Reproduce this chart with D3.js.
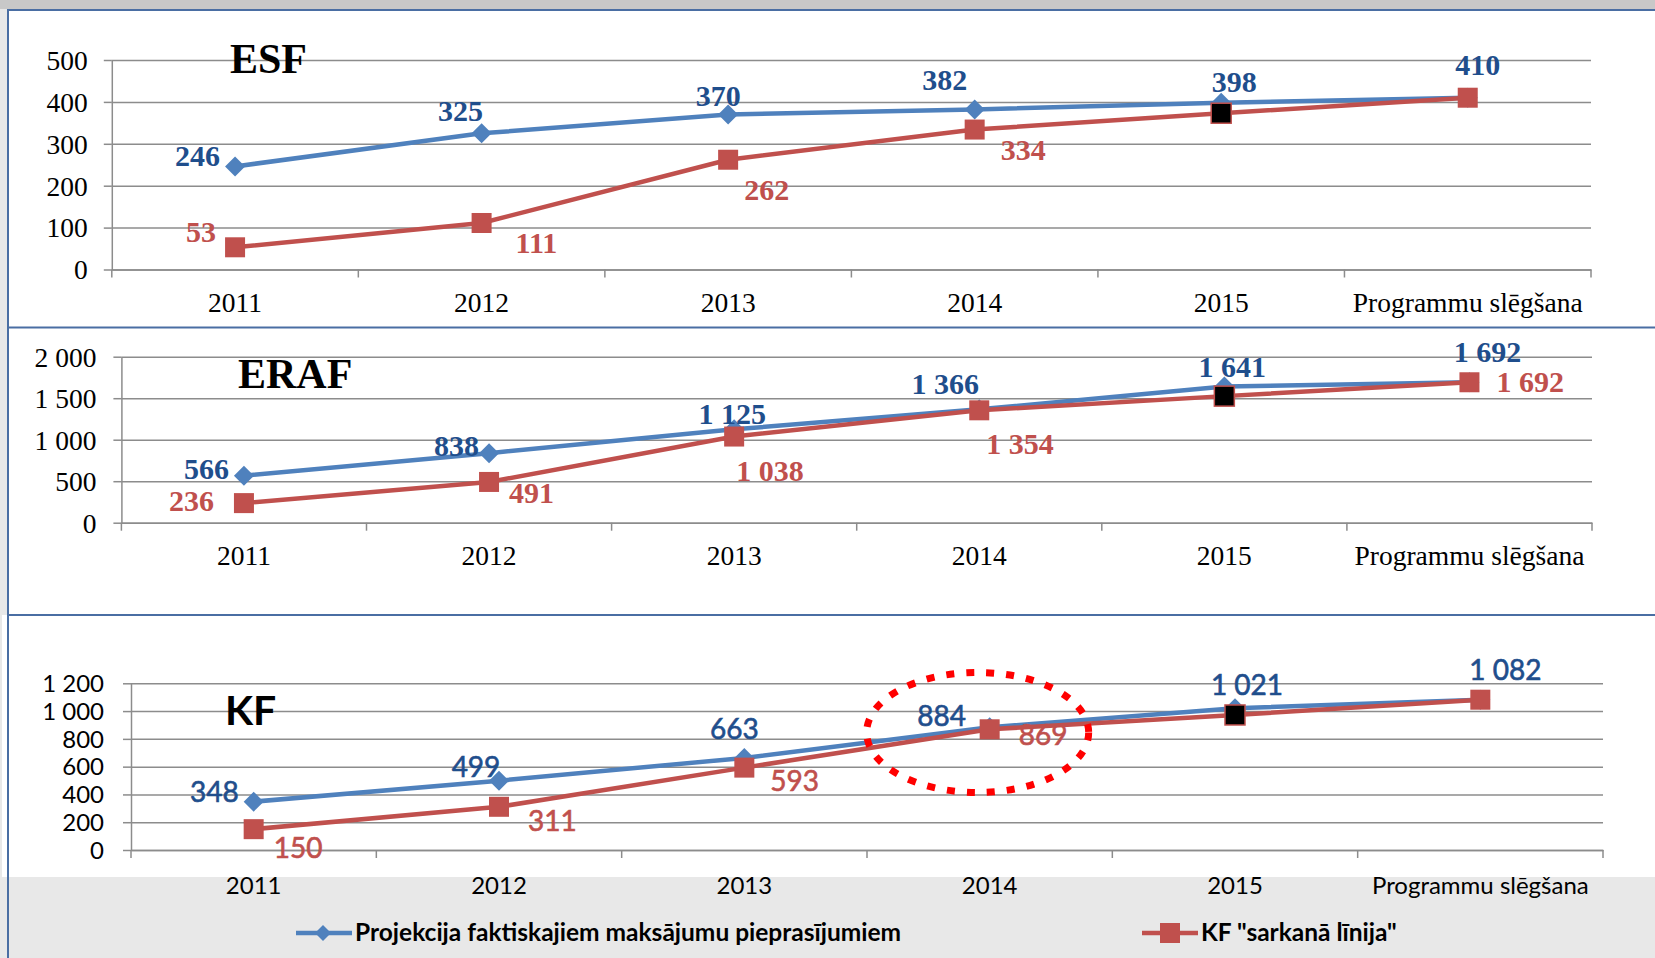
<!DOCTYPE html>
<html>
<head>
<meta charset="utf-8">
<script src="https://cdn.jsdelivr.net/npm/d3@7"></script>
<style>
  body { margin: 0; background: #ffffff; }
  svg { display: block; }
</style>
</head>
<body>
<div id="viz"></div>
<script>
// chart values
var categories = ["2011", "2012", "2013", "2014", "2015", "Programmu slēgšana"];

var esfProjection = [246, 325, 370, 382, 398, 410];
var esfRedLine = [53, 111, 262, 334, 373, 410];
var erafProjection = [566, 838, 1125, 1366, 1641, 1692];
var erafRedLine = [236, 491, 1038, 1354, 1525, 1692];
var kfProjection = [348, 499, 663, 884, 1021, 1082];
var kfRedLine = [150, 311, 593, 869, 972, 1082];

var esfTicks = [0, 100, 200, 300, 400, 500];
var erafTicks = [0, 500, 1000, 1500, 2000];
var kfTicks = [0, 200, 400, 600, 800, 1000, 1200];

var legendLabels = ["Projekcija faktiskajiem maksājumu pieprasījumiem", "KF \"sarkanā līnija\""];

// label placement (anchor, dx, dy from the marker), null = no label
var esfBlueLabelPos = [["end", -15, 0], ["middle", -21, -12], ["middle", -10, -8], ["middle", -30, -19], ["middle", 13, -11], ["middle", 10, -23]];
var esfRedLabelPos = [["end", -19, -5], ["start", 34, 30], ["start", 16, 40], ["start", 26, 30], null, null];
var erafBlueLabelPos = [["end", -15, 3], ["end", -10, 3], ["middle", -2, -5], ["middle", -34, -15], ["middle", 8, -9], ["middle", 18, -20]];
var erafRedLabelPos = [["end", -30, 8], ["start", 20, 21], ["start", 2, 44], ["start", 7, 44], null, ["start", 27, 10]];
var kfBlueLabelPos = [["end", -15, 0], ["middle", -23, -4], ["middle", -10, -19], ["middle", -48, -1], ["middle", 12, -13], ["middle", 25, -20]];
var kfRedLabelPos = [["start", 20, 29], ["start", 29, 24], ["start", 26, 23], ["start", 29, 16], null, null];

var W = 1655, H = 958;
var blue = "#4f81bd", red = "#c0504d";
var blueText = "#1f4e8c", redText = "#c0504d";
var gridColor = "#8c8c8c", frameColor = "#4a6ea3";
var serif = "'Liberation Serif', 'Times New Roman', serif";
var sans = "Lato, 'Open Sans', sans-serif";

var fmt = d3.formatLocale({ decimal: ",", thousands: " ", grouping: [3], currency: ["", ""] }).format(",d");

var svg = d3.select('#viz').append('svg')
    .attr('width', W)
    .attr('height', H);

// background frame bits
svg.append('rect').attr('x', 0).attr('y', 0).attr('width', W).attr('height', H).attr('fill', '#ffffff');
svg.append('rect').attr('x', 0).attr('y', 877).attr('width', W).attr('height', H - 877).attr('fill', '#e8e8e8');
svg.append('rect').attr('x', 0).attr('y', 0).attr('width', 7).attr('height', 877).attr('fill', '#e8e8e8');
svg.append('rect').attr('x', 2).attr('y', 615).attr('width', 5).attr('height', 262).attr('fill', '#ffffff');
svg.append('rect').attr('x', 0).attr('y', 0).attr('width', W).attr('height', 9).attr('fill', '#c8c8c8');
svg.append('line').attr('x1', 8).attr('x2', 8).attr('y1', 9).attr('y2', H)
    .attr('stroke', frameColor).attr('stroke-width', 2);
[10, 327.5, 615].forEach(function(y) {
  svg.append('line').attr('x1', 8).attr('x2', W).attr('y1', y).attr('y2', y)
      .attr('stroke', frameColor).attr('stroke-width', 2);
});

function drawPanel(opt) {
  var g = svg.append('g');

  var x = d3.scaleBand()
      .domain(categories)
      .range([opt.left, opt.right]);

  var y = d3.scaleLinear()
      .domain([0, d3.max(opt.ticks)])
      .range([opt.bottom, opt.top]);

  // gridlines
  g.append('g')
      .attr('transform', 'translate(' + opt.left + ',0)')
      .call(d3.axisLeft(y).tickValues(opt.ticks).tickSize(-(opt.right - opt.left)).tickSizeOuter(0).tickFormat(''))
      .call(function(s) { s.select('.domain').remove(); })
      .selectAll('line').attr('stroke', gridColor).attr('stroke-width', 1.5);

  // y axis with small ticks out to the left
  var yAxis = g.append('g')
      .attr('transform', 'translate(' + opt.left + ',0)')
      .call(d3.axisLeft(y).tickValues(opt.ticks).tickSize(8).tickSizeOuter(0).tickPadding(opt.yPad).tickFormat(fmt));
  yAxis.select('.domain').attr('stroke', gridColor).attr('stroke-width', 1.5);
  yAxis.selectAll('line').attr('stroke', gridColor).attr('stroke-width', 1.5);
  yAxis.selectAll('text')
      .attr('fill', '#000')
      .style('font-family', opt.font)
      .style('font-size', opt.tickSize + 'px')
      .attr('dy', '0.34em');

  // x axis: ticks between the categories
  var xAxis = g.append('g')
      .attr('transform', 'translate(0,' + opt.bottom + ')')
      .call(d3.axisBottom(x).tickSize(0).tickPadding(opt.xPad));
  xAxis.select('.domain').attr('stroke', gridColor).attr('stroke-width', 1.5);
  xAxis.selectAll('text')
      .attr('fill', '#000')
      .style('font-family', opt.font)
      .style('font-size', opt.tickSize + 'px');

  var edges = categories.map(function(c) { return x(c); }).concat([opt.right]);
  g.selectAll('.sep').data(edges).enter().append('line')
      .attr('x1', function(d) { return d; })
      .attr('x2', function(d) { return d; })
      .attr('y1', opt.bottom)
      .attr('y2', opt.bottom + 8)
      .attr('stroke', gridColor)
      .attr('stroke-width', 1.5);

  // title
  g.append('text')
      .attr('x', opt.titleX)
      .attr('y', opt.titleY)
      .style('font-family', opt.titleFont)
      .style('font-size', opt.titleSize + 'px')
      .style('font-weight', 'bold')
      .attr('fill', '#000')
      .text(opt.title);

  var cx = function(d, i) { return x(categories[i]) + x.bandwidth() / 2; };

  var line = d3.line()
      .x(function(d, i) { return cx(d, i); })
      .y(function(d) { return y(d); });

  // projection series
  g.append('path')
      .datum(opt.blue)
      .attr('fill', 'none')
      .attr('stroke', blue)
      .attr('stroke-width', 4.5)
      .attr('stroke-linejoin', 'round')
      .attr('d', line);

  g.selectAll('.diamond').data(opt.blue).enter().append('path')
      .attr('transform', function(d, i) { return 'translate(' + cx(d, i) + ',' + y(d) + ')'; })
      .attr('d', 'M0,-10L10,0L0,10L-10,0Z')
      .attr('fill', blue);

  // red line series
  g.append('path')
      .datum(opt.red)
      .attr('fill', 'none')
      .attr('stroke', red)
      .attr('stroke-width', 4.5)
      .attr('stroke-linejoin', 'round')
      .attr('d', line);

  g.selectAll('.square').data(opt.red).enter().append('rect')
      .attr('x', function(d, i) { return cx(d, i) - 10; })
      .attr('y', function(d) { return y(d) - 10; })
      .attr('width', 20)
      .attr('height', 20)
      .attr('fill', function(d, i) { return i === 4 ? '#000' : red; })
      .attr('stroke', red)
      .attr('stroke-width', function(d, i) { return i === 4 ? 1.5 : 0; });

  // data labels
  function labels(values, pos, color) {
    var rows = values.map(function(v, i) { return { v: v, i: i, p: pos[i] }; })
        .filter(function(r) { return r.p !== null; });
    g.selectAll(null).data(rows).enter()
        .append('text')
        .attr('x', function(r) { return cx(r.v, r.i) + r.p[1]; })
        .attr('y', function(r) { return y(r.v) + r.p[2]; })
        .attr('text-anchor', function(r) { return r.p[0]; })
        .style('font-family', opt.font)
        .style('font-size', opt.labelSize + 'px')
        .style('font-weight', opt.labelWeight)
        .attr('fill', color)
        .attr('stroke', opt.labelStroke ? color : 'none')
        .attr('stroke-width', opt.labelStroke || 0)
        .text(function(r) { return fmt(r.v); });
  }
  labels(opt.blue, opt.bluePos, blueText);
  labels(opt.red, opt.redPos, redText);

  return { x: x, y: y, g: g };
}

drawPanel({
  title: 'ESF', titleX: 230, titleY: 73, titleFont: serif, titleSize: 42,
  left: 111.8, right: 1591, top: 60, bottom: 269.5,
  ticks: esfTicks, blue: esfProjection, red: esfRedLine,
  bluePos: esfBlueLabelPos, redPos: esfRedLabelPos,
  font: serif, tickSize: 27.5, xPad: 23, yPad: 16, labelSize: 30, labelWeight: 'bold'
});

drawPanel({
  title: 'ERAF', titleX: 238, titleY: 388, titleFont: serif, titleSize: 42,
  left: 121.4, right: 1592, top: 356.7, bottom: 522.7,
  ticks: erafTicks, blue: erafProjection, red: erafRedLine,
  bluePos: erafBlueLabelPos, redPos: erafRedLabelPos,
  font: serif, tickSize: 27.5, xPad: 23, yPad: 17, labelSize: 30, labelWeight: 'bold'
});

var kf = drawPanel({
  title: 'KF', titleX: 225, titleY: 725, titleFont: sans, titleSize: 41,
  left: 131, right: 1603, top: 683.3, bottom: 850,
  ticks: kfTicks, blue: kfProjection, red: kfRedLine,
  bluePos: kfBlueLabelPos, redPos: kfRedLabelPos,
  font: sans, tickSize: 24, xPad: 27, yPad: 19, labelSize: 28, labelWeight: 'normal', labelStroke: 0.6
});

// dotted highlight round the 2014 KF point
kf.g.append('ellipse')
    .attr('cx', kf.x('2014') + kf.x.bandwidth() / 2 - 12)
    .attr('cy', kf.y(846))
    .attr('rx', 111)
    .attr('ry', 60)
    .attr('fill', 'none')
    .attr('stroke', '#ff0000')
    .attr('stroke-width', 7)
    .attr('stroke-dasharray', '8 12');

// legend
var legend = svg.append('g');
var legendItems = [
  { label: legendLabels[0], color: blue, x: 296, shape: 'diamond' },
  { label: legendLabels[1], color: red, x: 1142, shape: 'square' }
];
legendItems.forEach(function(it) {
  var ly = 933;
  legend.append('line')
      .attr('x1', it.x).attr('x2', it.x + 56)
      .attr('y1', ly).attr('y2', ly)
      .attr('stroke', it.color).attr('stroke-width', 4.5);
  if (it.shape === 'diamond') {
    legend.append('path')
        .attr('transform', 'translate(' + (it.x + 27) + ',' + ly + ')')
        .attr('d', 'M0,-8L8,0L0,8L-8,0Z')
        .attr('fill', it.color);
  } else {
    legend.append('rect')
        .attr('x', it.x + 18).attr('y', ly - 10)
        .attr('width', 20).attr('height', 20)
        .attr('fill', it.color);
  }
  legend.append('text')
      .attr('x', it.x + 59)
      .attr('y', ly + 8)
      .style('font-family', sans)
      .style('font-size', '24.5px')
      .style('font-weight', 'bold')
      .attr('fill', '#000')
      .text(it.label);
});
</script>
</body>
</html>
